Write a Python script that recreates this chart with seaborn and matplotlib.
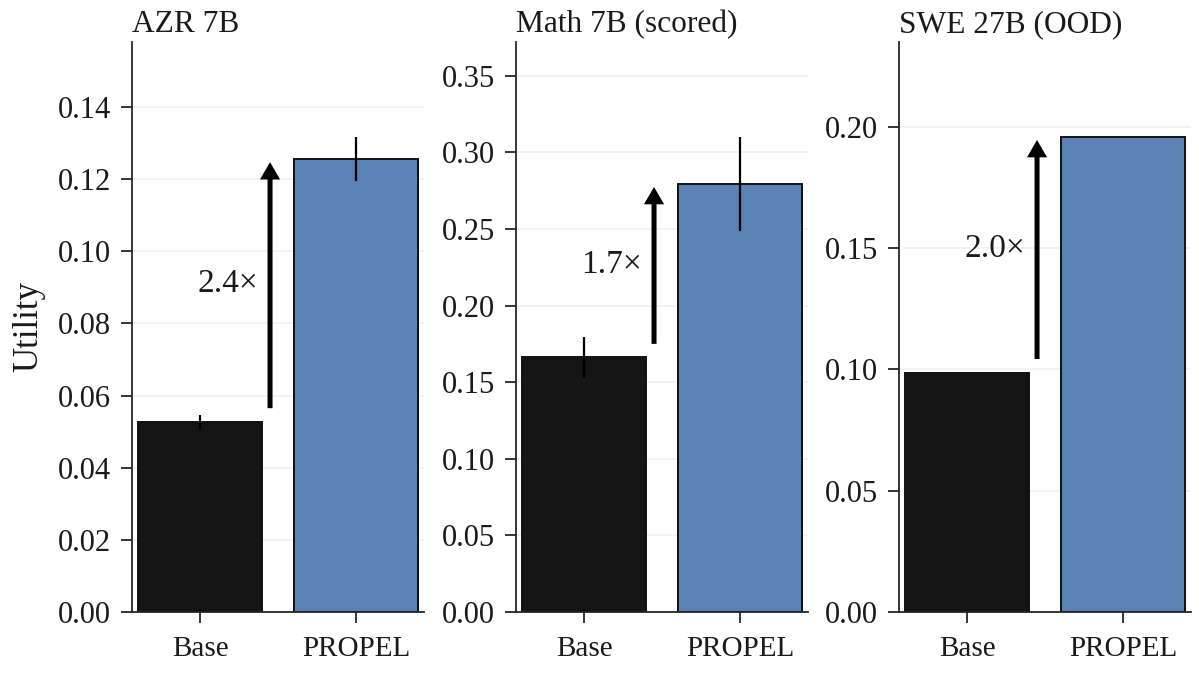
import matplotlib
matplotlib.use("Agg")
import matplotlib.pyplot as plt
import pandas as pd
import seaborn as sns

sns.set_style("ticks")
plt.rcParams['font.family'] = ['Liberation Serif', 'DejaVu Serif']

labels = ['Base', 'PROPEL']
titles = ['AZR 7B', 'Math 7B (scored)', 'SWE 27B (OOD)']
base_vals = [0.0527, 0.1664, 0.0985]
propel_vals = [0.1256, 0.2793, 0.1958]
# error bar ends, SWE has none
base_lo = [0.0507, 0.1527, None]
base_hi = [0.0546, 0.1795, None]
propel_lo = [0.1194, 0.2487, None]
propel_hi = [0.1317, 0.3100, None]
ymax = [0.158, 0.372, 0.235]
ystep = [0.02, 0.05, 0.05]
ntick = [8, 8, 5]
mults = ['2.4×', '1.7×', '2.0×']
arrow_from = [0.0565, 0.175, 0.1043]
arrow_to = [0.1247, 0.2774, 0.1946]
text_y = [0.0911, 0.2265, 0.1499]

colors = ['#151515', '#5a82b5']
lefts = [132, 516, 899]
width = 292

fig = plt.figure(figsize=(11.99, 6.73), dpi=100)
for i in range(3):
    ax = fig.add_axes([lefts[i] / 1199, 1 - 612 / 673, width / 1199, 570 / 673])
    df = pd.DataFrame({'method': labels, 'utility': [base_vals[i], propel_vals[i]]})
    sns.barplot(data=df, x='method', y='utility', hue='method', palette=colors, saturation=1,
                edgecolor='#111111', linewidth=1.4, ax=ax, legend=False, width=0.8)
    if base_lo[i] is not None:
        ax.vlines([0, 1], [base_lo[i], propel_lo[i]], [base_hi[i], propel_hi[i]],
                  color='black', lw=1.6, zorder=5)
    ax.set_ylim(0, ymax[i])
    ax.set_xlim(-0.436, 1.436)
    ax.set_yticks([ystep[i] * k for k in range(ntick[i])])
    ax.set_yticklabels([f'{ystep[i] * k:.2f}' for k in range(ntick[i])])
    ax.yaxis.grid(True, color='#f0f0f0', lw=1.2)
    ax.set_axisbelow(True)
    ax.tick_params(axis='y', labelsize=22, length=8, width=1.3, pad=7, labelcolor='#1a1a1a')
    ax.tick_params(axis='x', labelsize=21, length=8, width=1.3, pad=9, labelcolor='#1a1a1a')
    ax.spines[['top', 'right']].set_visible(False)
    ax.spines[['left', 'bottom']].set_linewidth(1.3)
    ax.set_xlabel('')
    ax.set_ylabel('Utility' if i == 0 else '', fontsize=25, labelpad=9, color='#1a1a1a')
    ax.set_title(titles[i], loc='left', fontsize=22.6, pad=7, color='#1a1a1a')
    ax.annotate('', xy=(0.449, arrow_to[i]), xytext=(0.449, arrow_from[i]),
                arrowprops=dict(arrowstyle='simple,head_length=1.25,head_width=1.45,tail_width=0.36',
                                mutation_scale=10, lw=0, color='black', shrinkA=0, shrinkB=0))
    ax.text(0.372, text_y[i], mults[i], fontsize=24, ha='right', va='center', color='#1a1a1a')

fig.savefig('out.png', dpi=100)
